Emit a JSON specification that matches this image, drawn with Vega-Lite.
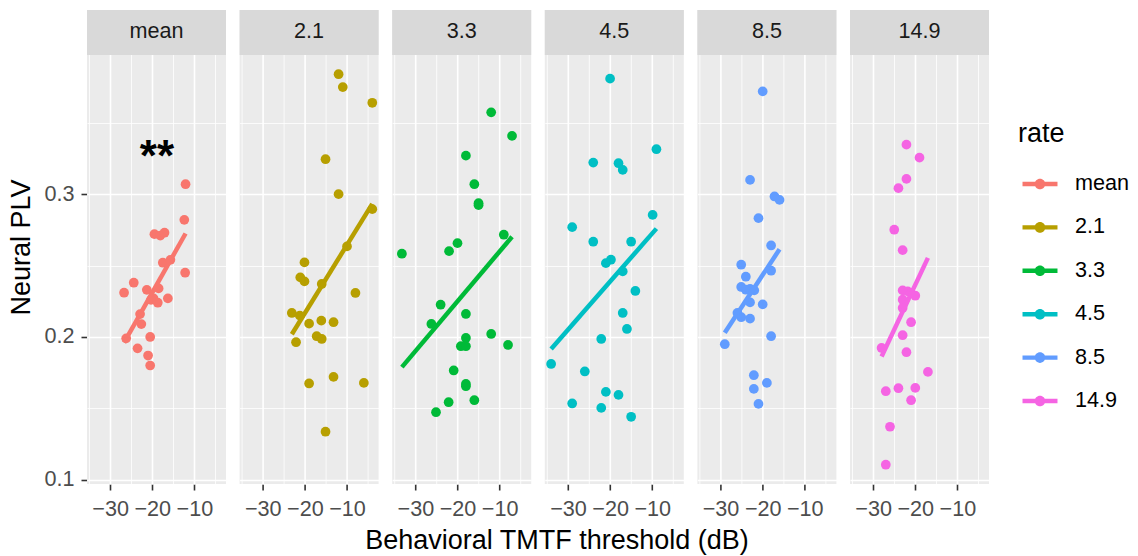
{
  "$schema": "https://vega.github.io/schema/vega-lite/v6.json",
  "padding": {"left": 7, "top": 10, "right": 5, "bottom": 5},
  "background": "white",
  "title": {"text": "Behavioral TMTF threshold (dB)", "orient": "bottom", "anchor": "middle", "frame": "bounds", "fontSize": 27, "fontWeight": "normal", "font": "Liberation Sans", "color": "black", "offset": 8, "dx": -12},
  "config": {
    "font": "Liberation Sans",
    "view": {"stroke": null},
    "facet": {"spacing": 7.6},
    "axis": {
      "domain": false,
      "gridColor": "white",
      "tickColor": "#333333",
      "tickSize": 6,
      "tickWidth": 1.6,
      "labelColor": "#4D4D4D",
      "labelFontSize": 21.6,
      "labelFont": "Liberation Sans",
      "labelOverlap": false,
      "labelFlush": false,
      "titleFont": "Liberation Sans",
      "titleFontSize": 27,
      "titleFontWeight": "normal",
      "titleColor": "black"
    }
  },
  "data": {"values": [
    {"rate":"mean","threshold":-12.1,"plv":0.307},
    {"rate":"mean","threshold":-12.4,"plv":0.282},
    {"rate":"mean","threshold":-19.5,"plv":0.272},
    {"rate":"mean","threshold":-18.1,"plv":0.271},
    {"rate":"mean","threshold":-17.1,"plv":0.273},
    {"rate":"mean","threshold":-17.5,"plv":0.252},
    {"rate":"mean","threshold":-15.7,"plv":0.254},
    {"rate":"mean","threshold":-12.2,"plv":0.245},
    {"rate":"mean","threshold":-24.4,"plv":0.238},
    {"rate":"mean","threshold":-26.7,"plv":0.231},
    {"rate":"mean","threshold":-21.3,"plv":0.233},
    {"rate":"mean","threshold":-18.5,"plv":0.234},
    {"rate":"mean","threshold":-19.7,"plv":0.227},
    {"rate":"mean","threshold":-18.7,"plv":0.224},
    {"rate":"mean","threshold":-16.3,"plv":0.227},
    {"rate":"mean","threshold":-20.3,"plv":0.226},
    {"rate":"mean","threshold":-22.9,"plv":0.216},
    {"rate":"mean","threshold":-22.6,"plv":0.209},
    {"rate":"mean","threshold":-26.2,"plv":0.199},
    {"rate":"mean","threshold":-20.5,"plv":0.200},
    {"rate":"mean","threshold":-23.5,"plv":0.192},
    {"rate":"mean","threshold":-21.0,"plv":0.187},
    {"rate":"mean","threshold":-20.5,"plv":0.180},

    {"rate":"2.1","threshold":-12.0,"plv":0.384},
    {"rate":"2.1","threshold":-11.0,"plv":0.375},
    {"rate":"2.1","threshold":-4.0,"plv":0.364},
    {"rate":"2.1","threshold":-15.1,"plv":0.3245},
    {"rate":"2.1","threshold":-12.0,"plv":0.300},
    {"rate":"2.1","threshold":-4.0,"plv":0.2895},
    {"rate":"2.1","threshold":-10.0,"plv":0.2634},
    {"rate":"2.1","threshold":-20.1,"plv":0.2522},
    {"rate":"2.1","threshold":-21.1,"plv":0.2417},
    {"rate":"2.1","threshold":-20.1,"plv":0.2389},
    {"rate":"2.1","threshold":-16.0,"plv":0.2371},
    {"rate":"2.1","threshold":-8.0,"plv":0.2308},
    {"rate":"2.1","threshold":-23.1,"plv":0.2168},
    {"rate":"2.1","threshold":-21.2,"plv":0.2149},
    {"rate":"2.1","threshold":-19.0,"plv":0.2093},
    {"rate":"2.1","threshold":-16.1,"plv":0.2114},
    {"rate":"2.1","threshold":-13.2,"plv":0.2103},
    {"rate":"2.1","threshold":-17.2,"plv":0.2005},
    {"rate":"2.1","threshold":-16.0,"plv":0.1986},
    {"rate":"2.1","threshold":-22.1,"plv":0.1963},
    {"rate":"2.1","threshold":-19.0,"plv":0.1674},
    {"rate":"2.1","threshold":-13.2,"plv":0.1720},
    {"rate":"2.1","threshold":-6.0,"plv":0.1678},
    {"rate":"2.1","threshold":-15.1,"plv":0.1336},

    {"rate":"3.3","threshold":-12.0,"plv":0.3573},
    {"rate":"3.3","threshold":-7.05,"plv":0.3408},
    {"rate":"3.3","threshold":-18.0,"plv":0.3270},
    {"rate":"3.3","threshold":-16.0,"plv":0.3070},
    {"rate":"3.3","threshold":-15.0,"plv":0.2937},
    {"rate":"3.3","threshold":-15.0,"plv":0.2923},
    {"rate":"3.3","threshold":-9.0,"plv":0.2716},
    {"rate":"3.3","threshold":-33.2,"plv":0.2583},
    {"rate":"3.3","threshold":-20.0,"plv":0.2657},
    {"rate":"3.3","threshold":-22.0,"plv":0.2601},
    {"rate":"3.3","threshold":-24.0,"plv":0.2226},
    {"rate":"3.3","threshold":-26.2,"plv":0.2091},
    {"rate":"3.3","threshold":-18.0,"plv":0.2161},
    {"rate":"3.3","threshold":-12.0,"plv":0.2021},
    {"rate":"3.3","threshold":-8.0,"plv":0.1944},
    {"rate":"3.3","threshold":-18.0,"plv":0.1993},
    {"rate":"3.3","threshold":-19.2,"plv":0.1935},
    {"rate":"3.3","threshold":-18.0,"plv":0.1935},
    {"rate":"3.3","threshold":-20.9,"plv":0.1765},
    {"rate":"3.3","threshold":-18.0,"plv":0.1671},
    {"rate":"3.3","threshold":-18.0,"plv":0.1655},
    {"rate":"3.3","threshold":-22.1,"plv":0.1543},
    {"rate":"3.3","threshold":-16.0,"plv":0.1557},
    {"rate":"3.3","threshold":-25.1,"plv":0.1473},

    {"rate":"4.5","threshold":-20.0,"plv":0.3809},
    {"rate":"4.5","threshold":-9.0,"plv":0.3315},
    {"rate":"4.5","threshold":-24.0,"plv":0.3221},
    {"rate":"4.5","threshold":-18.0,"plv":0.3217},
    {"rate":"4.5","threshold":-17.0,"plv":0.3170},
    {"rate":"4.5","threshold":-9.9,"plv":0.2855},
    {"rate":"4.5","threshold":-29.0,"plv":0.2769},
    {"rate":"4.5","threshold":-24.0,"plv":0.2667},
    {"rate":"4.5","threshold":-15.0,"plv":0.2667},
    {"rate":"4.5","threshold":-21.0,"plv":0.2517},
    {"rate":"4.5","threshold":-19.8,"plv":0.2541},
    {"rate":"4.5","threshold":-17.0,"plv":0.2459},
    {"rate":"4.5","threshold":-14.0,"plv":0.2322},
    {"rate":"4.5","threshold":-17.0,"plv":0.2168},
    {"rate":"4.5","threshold":-16.0,"plv":0.2056},
    {"rate":"4.5","threshold":-22.1,"plv":0.1986},
    {"rate":"4.5","threshold":-34.0,"plv":0.1811},
    {"rate":"4.5","threshold":-26.0,"plv":0.1758},
    {"rate":"4.5","threshold":-21.0,"plv":0.1615},
    {"rate":"4.5","threshold":-18.0,"plv":0.1594},
    {"rate":"4.5","threshold":-29.0,"plv":0.1534},
    {"rate":"4.5","threshold":-22.1,"plv":0.1503},
    {"rate":"4.5","threshold":-15.0,"plv":0.1441},

    {"rate":"8.5","threshold":-20.0,"plv":0.3720},
    {"rate":"8.5","threshold":-23.0,"plv":0.3100},
    {"rate":"8.5","threshold":-17.2,"plv":0.2984},
    {"rate":"8.5","threshold":-16.0,"plv":0.2960},
    {"rate":"8.5","threshold":-21.0,"plv":0.2832},
    {"rate":"8.5","threshold":-18.0,"plv":0.2641},
    {"rate":"8.5","threshold":-25.1,"plv":0.2506},
    {"rate":"8.5","threshold":-18.0,"plv":0.2464},
    {"rate":"8.5","threshold":-24.0,"plv":0.2422},
    {"rate":"8.5","threshold":-25.1,"plv":0.2350},
    {"rate":"8.5","threshold":-24.0,"plv":0.2331},
    {"rate":"8.5","threshold":-23.0,"plv":0.2336},
    {"rate":"8.5","threshold":-22.0,"plv":0.2326},
    {"rate":"8.5","threshold":-23.0,"plv":0.2242},
    {"rate":"8.5","threshold":-20.0,"plv":0.2228},
    {"rate":"8.5","threshold":-26.0,"plv":0.2168},
    {"rate":"8.5","threshold":-25.1,"plv":0.2138},
    {"rate":"8.5","threshold":-23.0,"plv":0.2128},
    {"rate":"8.5","threshold":-18.0,"plv":0.2005},
    {"rate":"8.5","threshold":-29.0,"plv":0.1949},
    {"rate":"8.5","threshold":-22.1,"plv":0.1732},
    {"rate":"8.5","threshold":-19.0,"plv":0.1678},
    {"rate":"8.5","threshold":-22.1,"plv":0.1636},
    {"rate":"8.5","threshold":-21.0,"plv":0.1531},

    {"rate":"14.9","threshold":-22.1,"plv":0.3347},
    {"rate":"14.9","threshold":-19.0,"plv":0.3256},
    {"rate":"14.9","threshold":-22.1,"plv":0.3107},
    {"rate":"14.9","threshold":-24.0,"plv":0.3042},
    {"rate":"14.9","threshold":-25.0,"plv":0.2751},
    {"rate":"14.9","threshold":-23.0,"plv":0.2608},
    {"rate":"14.9","threshold":-23.0,"plv":0.2326},
    {"rate":"14.9","threshold":-21.8,"plv":0.2319},
    {"rate":"14.9","threshold":-21.0,"plv":0.2308},
    {"rate":"14.9","threshold":-20.0,"plv":0.2289},
    {"rate":"14.9","threshold":-23.0,"plv":0.2261},
    {"rate":"14.9","threshold":-23.0,"plv":0.2203},
    {"rate":"14.9","threshold":-21.0,"plv":0.2103},
    {"rate":"14.9","threshold":-23.0,"plv":0.2012},
    {"rate":"14.9","threshold":-28.0,"plv":0.1923},
    {"rate":"14.9","threshold":-22.1,"plv":0.1893},
    {"rate":"14.9","threshold":-17.0,"plv":0.1755},
    {"rate":"14.9","threshold":-27.0,"plv":0.1620},
    {"rate":"14.9","threshold":-24.0,"plv":0.1641},
    {"rate":"14.9","threshold":-20.0,"plv":0.1643},
    {"rate":"14.9","threshold":-21.0,"plv":0.1557},
    {"rate":"14.9","threshold":-26.0,"plv":0.1371},
    {"rate":"14.9","threshold":-27.0,"plv":0.1105}
  ]},
  "facet": {"column": {"field": "rate", "type": "nominal", "sort": ["mean","2.1","3.3","4.5","8.5","14.9"], "header": null}},
  "spacing": {"row": 0, "column": 7.6},
  "spec": {
    "width": 139,
    "height": 474,
    "view": {"fill": "#EBEBEB", "stroke": null},
    "encoding": {
      "x": {"field": "threshold", "type": "quantitative",
        "scale": {"domain": [-35.5, -2.5], "nice": false, "zero": false},
        "axis": {
          "title": null,
          "values": [-35, -30, -25, -20, -15, -10, -5],
          "labelExpr": "datum.value % 10 === 0 ? datum.label : ''",
          "gridWidth": {"condition": {"test": "datum.value % 10 === 0", "value": 1.6}, "value": 0.8},
          "tickOpacity": {"condition": {"test": "datum.value % 10 === 0", "value": 1}, "value": 0},
          "labelPadding": 8
        }
      },
      "y": {"field": "plv", "type": "quantitative",
        "scale": {"domain": [0.097, 0.429], "nice": false, "zero": false},
        "axis": {
          "title": "Neural PLV",
          "format": ".1f",
          "values": [0.1, 0.15, 0.2, 0.25, 0.3, 0.35],
          "labelExpr": "abs(datum.value * 10 - round(datum.value * 10)) < 0.001 ? datum.label : ''",
          "gridWidth": {"condition": {"test": "abs(datum.value * 10 - round(datum.value * 10)) < 0.001", "value": 1.6}, "value": 0.8},
          "tickOpacity": {"condition": {"test": "abs(datum.value * 10 - round(datum.value * 10)) < 0.001", "value": 1}, "value": 0},
          "labelPadding": 7,
          "titlePadding": 8
        }
      },
      "color": {"field": "rate", "type": "nominal",
        "scale": {"domain": ["mean","2.1","3.3","4.5","8.5","14.9"], "range": ["#F8766D","#B79F00","#00BA38","#00BFC4","#619CFF","#F564E3"]},
        "legend": {
          "title": "rate",
          "orient": "none",
          "legendX": 931,
          "legendY": 111,
          "titleFontSize": 27,
          "titleFontWeight": "normal",
          "titleColor": "black",
          "titleFont": "Liberation Sans",
          "titlePadding": 14,
          "labelFontSize": 21.6,
          "labelColor": "black",
          "labelFont": "Liberation Sans",
          "labelOffset": 13,
          "symbolType": "M-0.795,-0.1L0.795,-0.1L0.795,0.1L-0.795,0.1ZM0.24,0A0.24,0.24,0,1,1,-0.24,0A0.24,0.24,0,1,1,0.24,0Z",
          "symbolSize": 1936,
          "symbolStrokeWidth": 0,
          "symbolOpacity": 1,
          "rowPadding": 10.4
        }
      }
    },
    "layer": [
      {
        "transform": [{"window": [{"op": "row_number", "as": "i"}], "groupby": ["rate"]}, {"filter": "datum.i === 1"}],
        "mark": {"type": "rect", "color": "#D9D9D9"},
        "encoding": {
          "x": {"datum": -35.5, "type": "quantitative"},
          "x2": {"datum": -2.5},
          "y": {"datum": 0.3975, "type": "quantitative"},
          "y2": {"datum": 0.429},
          "color": {"value": "#D9D9D9"}
        }
      },
      {
        "transform": [{"window": [{"op": "row_number", "as": "i"}], "groupby": ["rate"]}, {"filter": "datum.i === 1"}],
        "mark": {"type": "text", "fontSize": 21.6, "baseline": "middle", "align": "center", "font": "Liberation Sans"},
        "encoding": {
          "x": {"datum": -19, "type": "quantitative"},
          "y": {"datum": 0.4133, "type": "quantitative"},
          "text": {"field": "rate", "type": "nominal"},
          "color": {"value": "#1A1A1A"}
        }
      },
      {"mark": {"type": "point", "filled": true, "size": 95, "opacity": 1}},
      {
        "transform": [{"regression": "plv", "on": "threshold", "groupby": ["rate"]}],
        "mark": {"type": "line", "strokeWidth": 4.5}
      },
      {
        "transform": [{"window": [{"op": "row_number", "as": "i"}], "groupby": ["rate"]}, {"filter": "datum.i === 1 && datum.rate === 'mean'"}],
        "mark": {"type": "text", "text": "**", "fontSize": 44, "fontWeight": "bold", "baseline": "alphabetic", "align": "center"},
        "encoding": {
          "x": {"datum": -18.9, "type": "quantitative"},
          "y": {"datum": 0.3159, "type": "quantitative"},
          "color": {"value": "black"}
        }
      }
    ]
  }
}
